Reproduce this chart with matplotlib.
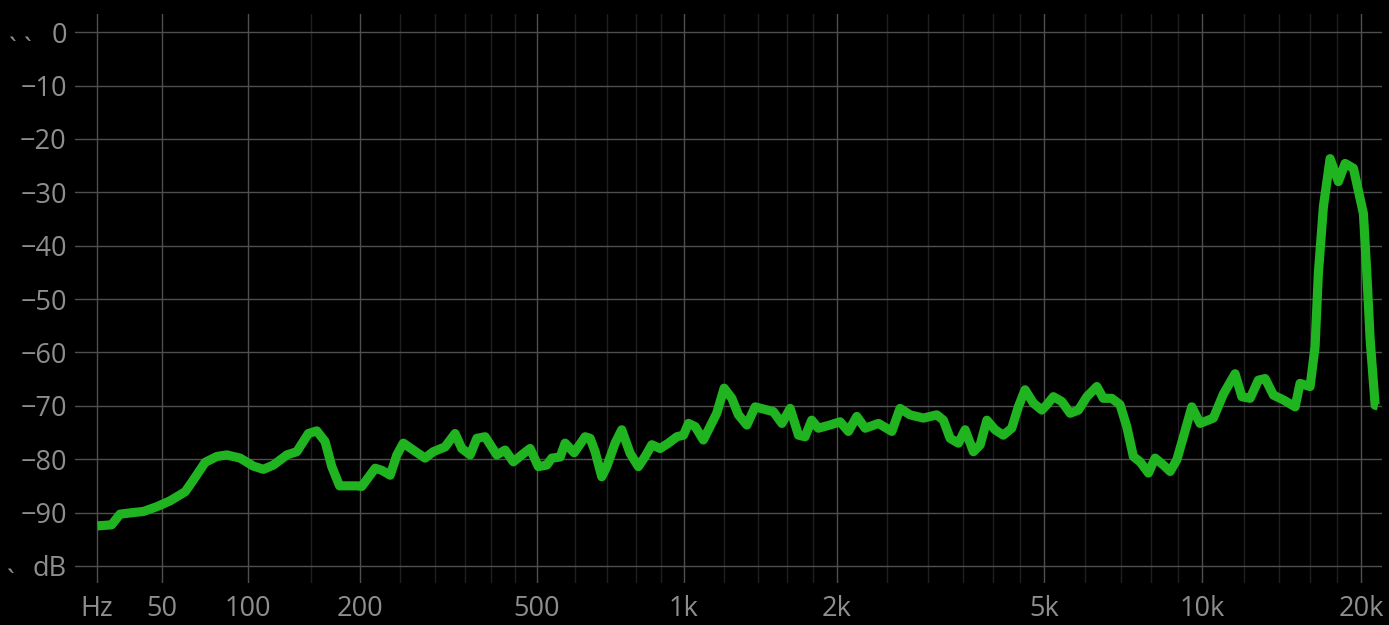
import numpy as np
import matplotlib.pyplot as plt

# spectrum
freq_hz = [23.2, 28.5, 31.8, 37.2, 41.6, 47.7, 54.1, 61.8, 66.2, 72.8,
           79.7, 85.9, 94.6, 103.7, 111, 118.6, 129.4, 137.7, 147.9, 155.6,
           163.5, 170.1, 178, 196.5, 202.1, 217.8, 226, 236.5, 245.2, 253.9,
           267.8, 284.9, 297.5, 316.2, 332.9, 344.5, 359.5, 371.8, 387.7, 410.9,
           428.1, 446, 464.8, 484.1, 504, 525.1, 537.9, 559.9, 573.4, 598.7,
           631, 646.2, 661.5, 682.6, 698.8, 726.8, 749.9, 779.8, 810.5, 836.3,
           862.7, 896.8, 931.8, 968.7, 998.6, 1022, 1054, 1094, 1128, 1163,
           1203, 1246, 1284, 1334, 1385, 1449, 1504, 1563, 1622, 1684,
           1734, 1787, 1841, 1940, 2029, 2106, 2186, 2269, 2408, 2555,
           2650, 2770, 2939, 3118, 3211, 3308, 3431, 3534, 3666, 3777,
           3890, 4034, 4183, 4340, 4468, 4602, 4773, 4954, 5064, 5212,
           5408, 5610, 5818, 6037, 6306, 6488, 6731, 6981, 7189, 7399,
           7621, 7903, 8137, 8438, 8691, 8949, 9210, 9553, 9903, 10496,
           10965, 11540, 11883, 12322, 12774, 13154, 13639, 14248, 14992, 15317,
           16000, 16353, 16589, 16956, 17459, 18100, 18638, 19323, 20184, 20487,
           20787, 21242, 21500]
level_db = [-92.5, -92.3, -90.3, -90.0, -89.8, -88.9, -87.8, -86.1, -83.9, -80.6,
            -79.5, -79.2, -79.8, -81.3, -81.9, -81.1, -79.2, -78.6, -75.2, -74.7,
            -76.7, -81.4, -85.0, -85.0, -85.1, -81.7, -82.1, -83.0, -79.2, -77.0,
            -78.3, -79.8, -78.6, -77.7, -75.2, -78.0, -79.2, -76.1, -75.8, -79.2,
            -78.3, -80.5, -79.2, -78.0, -81.4, -81.1, -79.8, -79.6, -77.0, -78.8,
            -75.8, -76.1, -78.6, -83.3, -81.4, -77.0, -74.5, -78.9, -81.4, -79.5,
            -77.3, -78.0, -77.0, -75.8, -75.5, -73.3, -73.9, -76.4, -73.9, -71.4,
            -66.7, -68.6, -71.7, -73.6, -70.2, -70.7, -71.1, -73.3, -70.5, -75.5,
            -75.8, -72.7, -74.2, -73.6, -73.0, -74.8, -72.0, -74.2, -73.3, -74.8,
            -70.5, -71.7, -72.3, -71.7, -72.7, -76.1, -77.0, -74.5, -78.6, -77.3,
            -72.7, -74.5, -75.5, -74.2, -70.2, -67.0, -69.5, -70.8, -69.8, -68.3,
            -69.2, -71.4, -70.8, -68.3, -66.4, -68.6, -68.6, -69.8, -73.9, -79.5,
            -80.5, -82.6, -79.8, -81.1, -82.3, -80.1, -75.8, -70.2, -73.3, -72.3,
            -67.8, -64.0, -68.3, -68.6, -65.2, -64.9, -68.0, -68.9, -70.2, -65.8,
            -66.4, -58.9, -45.2, -32.7, -23.7, -28.0, -24.6, -25.5, -34.0, -45.2,
            -57.7, -69.9, -70.0]

x_major = [23, 50, 100, 200, 500, 1000, 2000, 5000, 10000, 20000]
x_labels = ['Hz', '50', '100', '200', '500', '1k', '2k', '5k', '10k', '20k']
x_minor = [150, 250, 300, 350, 400, 450, 600, 700, 800, 900,
           1200, 1400, 1600, 1800, 2500, 3000, 3500, 4000, 4500,
           6000, 7000, 8000, 9000, 12000, 14000, 16000, 18000]
y_ticks = [0, -10, -20, -30, -40, -50, -60, -70, -80, -90, -100]
y_labels = ['0', '\u221210', '\u221220', '\u221230', '\u221240', '\u221250',
            '\u221260', '\u221270', '\u221280', '\u221290', 'dB']

label_col = '#8e8e8e'
plt.rcParams['font.family'] = ['Open Sans', 'DejaVu Sans']

fig = plt.figure(figsize=(13.89, 6.25), dpi=100, facecolor='black')
ax = fig.add_axes([0.054, 0.0672, 0.941, 0.9104], facecolor='black')

# the analyser's frequency axis is log(f + 60), not plain log
ax.set_xscale('function', functions=(lambda f: np.log10(np.maximum(f + 60, 1e-9)),
                                     lambda v: 10 ** v - 60))
ax.set_xlim(15.5, 21890)
ax.set_ylim(-103.2, 3.4)

ax.plot(freq_hz, level_db, color='#20b520', lw=6.6,
        solid_joinstyle='round', solid_capstyle='butt', zorder=3)

ax.set_xticks(x_major)
ax.set_xticklabels(x_labels)
ax.set_xticks(x_minor, minor=True)
ax.set_yticks(y_ticks)
ax.set_yticklabels(y_labels)

ax.grid(which='major', color='#4f4f4f', lw=1.0)
ax.grid(which='minor', axis='x', color='#1f1f1f', lw=1.0)
ax.set_axisbelow(True)

ax.tick_params(which='both', length=0, colors=label_col, labelsize=19.5)
ax.tick_params(axis='x', pad=9)
ax.tick_params(axis='y', pad=6)
for s in ax.spines.values():
    s.set_visible(False)

# clipped glyph fragments at the left edge of the screenshot
fig.text(9 / 1389, 1 - 58 / 625, '` `', color=label_col, fontsize=20)
fig.text(7 / 1389, 1 - 590 / 625, '`', color=label_col, fontsize=20)

fig.savefig('out.png', dpi=100, facecolor='black')
